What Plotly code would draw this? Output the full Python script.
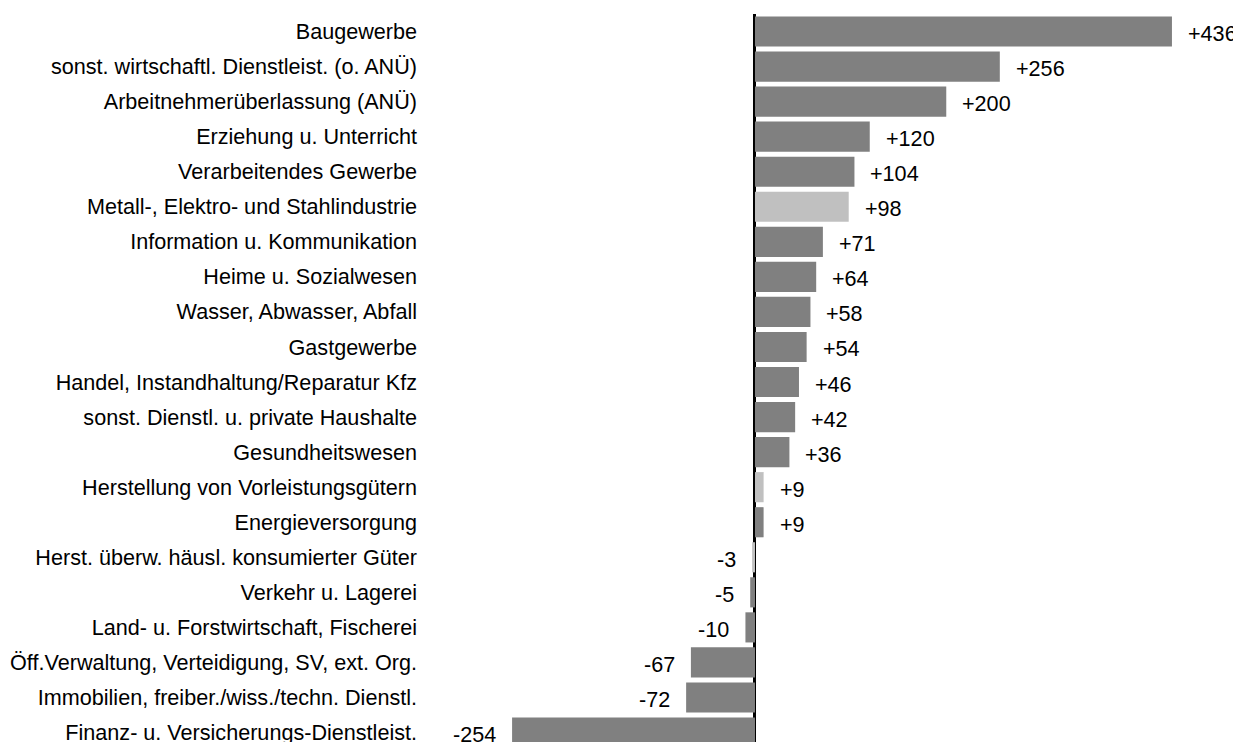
import plotly.graph_objects as go

categories = [
    "Baugewerbe",
    "sonst. wirtschaftl. Dienstleist. (o. ANÜ)",
    "Arbeitnehmerüberlassung (ANÜ)",
    "Erziehung u. Unterricht",
    "Verarbeitendes Gewerbe",
    "Metall-, Elektro- und Stahlindustrie",
    "Information u. Kommunikation",
    "Heime u. Sozialwesen",
    "Wasser, Abwasser, Abfall",
    "Gastgewerbe",
    "Handel, Instandhaltung/Reparatur Kfz",
    "sonst. Dienstl. u. private Haushalte",
    "Gesundheitswesen",
    "Herstellung von Vorleistungsgütern",
    "Energieversorgung",
    "Herst. überw. häusl. konsumierter Güter",
    "Verkehr u. Lagerei",
    "Land- u. Forstwirtschaft, Fischerei",
    "Öff.Verwaltung, Verteidigung, SV, ext. Org.",
    "Immobilien, freiber./wiss./techn. Dienstl.",
    "Finanz- u. Versicherungs-Dienstleist.",
]
values = [436, 256, 200, 120, 104, 98, 71, 64, 58, 54, 46, 42, 36, 9, 9, -3, -5, -10, -67, -72, -254]
highlight = ["Metall-, Elektro- und Stahlindustrie",
             "Herstellung von Vorleistungsgütern",
             "Herst. überw. häusl. konsumierter Güter"]

DARK = "#808080"
LIGHT = "#c0c0c0"
colors = [LIGHT if c in highlight else DARK for c in categories]
FONT = "Liberation Sans, Arial, sans-serif"
FS = 21.6

fig = go.Figure()
fig.add_trace(go.Bar(
    x=values, y=categories, orientation="h",
    marker=dict(color=colors, line=dict(width=0)),
    width=0.86,
    hoverinfo="x+y",
))

for c, v in zip(categories, values):
    label = f"+{v}" if v > 0 else f"{v}"
    fig.add_annotation(
        x=v, y=c, text=label, showarrow=False,
        xanchor="left" if v > 0 else "right",
        xshift=14 if v > 0 else -14, yshift=-2,
        font=dict(family=FONT, size=FS, color="#000000"),
    )

fig.update_layout(
    width=1233, height=734,
    margin=dict(l=416, r=0, t=6, b=0, autoexpand=False),
    paper_bgcolor="white", plot_bgcolor="white",
    showlegend=False,
    font=dict(family=FONT, size=FS, color="#000000"),
)
fig.update_xaxes(
    range=[-346.1, 508.2], showgrid=False, showticklabels=False, ticks="",
    zeroline=True, zerolinecolor="#000000", zerolinewidth=3, showline=False,
    automargin=False,
)
fig.update_yaxes(
    type="category", categoryorder="array", categoryarray=categories,
    range=[20.27, -0.5], showgrid=False, ticks="", showline=False,
    tickfont=dict(family=FONT, size=FS, color="#000000"),
    ticklabelstandoff=6, automargin=False,
)

fig.write_html("out.html")
